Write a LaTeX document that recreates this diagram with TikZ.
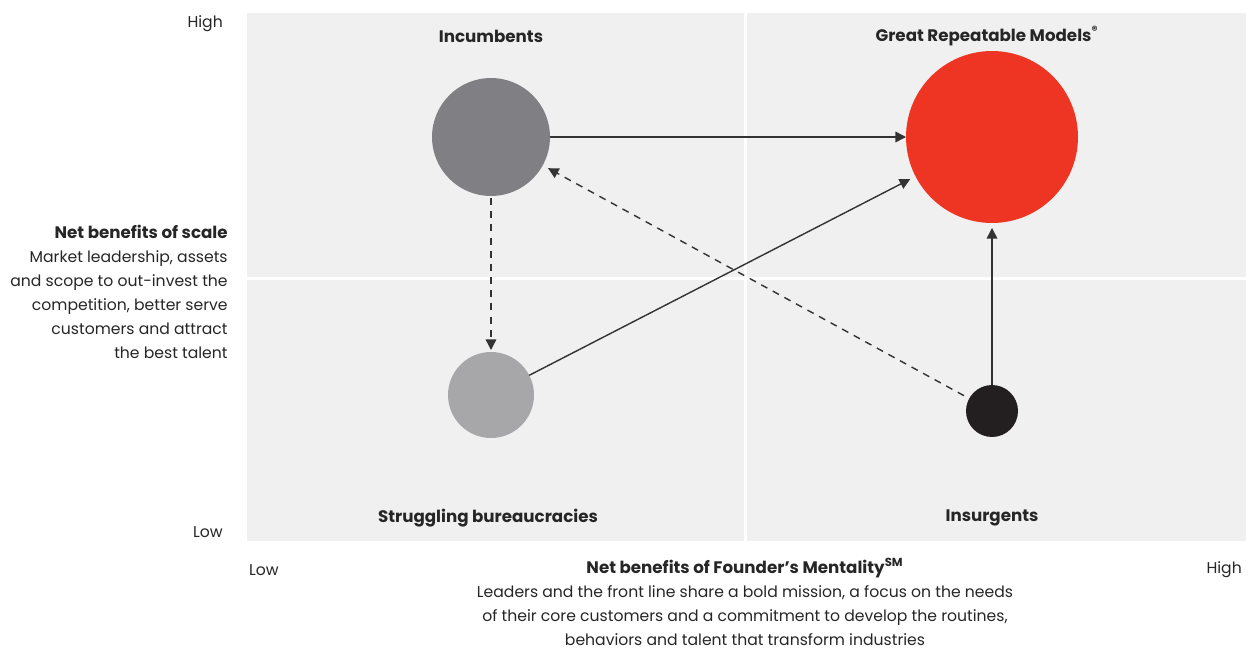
\documentclass[tikz,border=0pt]{standalone}
\usepackage{fontspec}
\setmainfont{Poppins}
\usetikzlibrary{arrows.meta}

\definecolor{panelgrey}{HTML}{F0F0F0}
\definecolor{incgrey}{HTML}{808084}
\definecolor{strugrey}{HTML}{A7A7AA}
\definecolor{grmred}{HTML}{EE3524}
\definecolor{insblack}{HTML}{231F20}
\definecolor{arrowgrey}{HTML}{333333}

\begin{document}
\begin{tikzpicture}[x=0.02cm, y=-0.02cm,
  every node/.style={font=\fontsize{8.9}{13.66}\selectfont, text=black!85},
  blob/.style={circle, inner sep=0pt, outer sep=0pt},
  quad/.style={font=\fontsize{9.5}{13.66}\selectfont\bfseries},
  link/.style={draw=arrowgrey, line width=0.8pt, -{Triangle[length=6pt,width=6pt]}},
  dashlink/.style={link, dash pattern=on 4pt off 3.5pt}]
\useasboundingbox (0,0) rectangle (1248,649);

% quadrant panel
\fill[panelgrey] (247,13) rectangle (1246,541);
\draw[white, line width=0.06cm] (745,13) -- (745,541);
\draw[white, line width=0.06cm] (247,278) -- (1246,278);

% quadrant titles
\node[quad] (incT) at (491,36) {Incumbents};
\node[quad] (grmT) at (987,36) {Great Repeatable Models\textsuperscript{\textregistered}};
\node[quad] (bureT) at (488,518) {Struggling bureaucracies};
\node[quad] (insT) at (992,518) {Insurgents};

% companies
\node[blob, fill=incgrey, minimum size=2.36cm] (inc) at (491,137) {};
\node[blob, fill=grmred, minimum size=3.44cm] (grm) at (992,137) {};
\node[blob, fill=strugrey, minimum size=1.72cm] (bure) at (491,395) {};
\node[blob, fill=insblack, minimum size=1.04cm] (ins) at (992,411) {};

% moves
\draw[link] (inc) -- (grm);
\draw[link, shorten >=0.12cm] (bure) -- (grm);
\draw[link, shorten >=0.1cm] (ins) -- (grm);
\draw[dashlink, shorten <=0.04cm, shorten >=0.04cm] (inc) -- (bure);
\draw[dashlink, shorten <=0.12cm, shorten >=0.12cm] (ins) -- (inc);

% vertical axis
\node[anchor=east] (yhi) at (229,24) {High};
\node[anchor=east] (ylo) at (229,532) {Low};
\node[anchor=north east, align=right, inner sep=0pt] (ylab) at (228,225)
  {{\fontsize{9.5}{13.66}\selectfont\bfseries Net benefits of scale}\\
   Market leadership, assets\\
   and scope to out-invest the\\
   competition, better serve\\
   customers and attract\\
   the best talent};

% horizontal axis
\node[anchor=west] (xlo) at (243,570) {Low};
\node[anchor=east] (xhi) at (1248,570) {High};
\node[anchor=north, align=center, inner sep=0pt] (xlab) at (745,558)
  {{\fontsize{9.5}{13.66}\selectfont\bfseries Net benefits of Founder’s Mentality\textsuperscript{SM}}\\
   Leaders and the front line share a bold mission, a focus on the needs\\
   of their core customers and a commitment to develop the routines,\\
   behaviors and talent that transform industries};
\end{tikzpicture}
\end{document}
